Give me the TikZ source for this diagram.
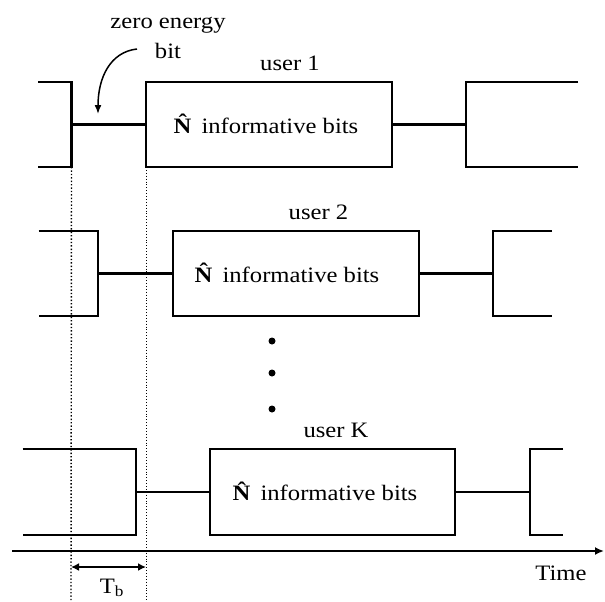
\documentclass[tikz,border=0pt]{standalone}
\usepackage{fontspec}
\setmainfont{Liberation Serif}[FakeStretch=1.12]
\usetikzlibrary{arrows.meta}
\begin{document}
\begin{tikzpicture}[x=1pt,y=-1pt,
  sig/.style={line width=2.1pt, line join=miter},
  blk/.style={draw, line width=2.1pt, minimum width=246pt, minimum height=85pt, inner sep=0pt},
  lbl/.style={font=\fontsize{22}{24}\selectfont, inner sep=0pt, anchor=base},
  guidea/.style={dotted, line width=1.4pt},
  guideb/.style={dotted, line width=0.9pt},
  axis/.style={line width=2.1pt, -{Latex[length=9pt,width=8pt]}},
  dimarrow/.style={line width=1.8pt, {Latex[length=8pt,width=8pt]}-{Latex[length=8pt,width=8pt]}},
  pointer/.style={line width=1.5pt, -{Latex[length=9pt,width=7pt]}},
  dotmark/.style={circle, fill, inner sep=0pt, minimum size=7pt}
]
\useasboundingbox (0,0) rectangle (605,602);

% ---------- row 1 ----------
\node[blk] (b1) at (269,124.5) {};
\coordinate (l1a) at (38,82);
\coordinate (l1b) at (71.5,82);
\coordinate (l1c) at (71.5,167);
\coordinate (l1d) at (38,167);
\coordinate (l1m) at (71.5,124.5);
\coordinate (r1a) at (578,82);
\coordinate (r1b) at (466,82);
\coordinate (r1c) at (466,167);
\coordinate (r1d) at (578,167);
\coordinate (r1m) at (466,124.5);
\draw[sig] (l1a) -- (l1b) -- (l1c) -- (l1d);
\draw[sig] (l1m) -- (b1.west);
\draw[sig] (b1.east) -- (r1m);
\draw[sig] (r1a) -- (r1b) -- (r1c) -- (r1d);
\node[lbl] (t1) at (266,133) {\textbf{\^N} informative bits};
\node[lbl] (u1) at (290,70.7) {user 1};

% zero energy bit label and pointer
\node[lbl] (z1) at (168,29) {zero energy};
\node[lbl] (z2) at (168,59) {bit};
\coordinate (p0) at (137,49);
\coordinate (p1) at (98,114);
\draw[pointer] (p0) .. controls (110,52) and (98,78) .. (p1);

% ---------- row 2 ----------
\node[blk] (b2) at (295.6,273.5) {};
\coordinate (l2a) at (38.7,231);
\coordinate (l2b) at (97.7,231);
\coordinate (l2c) at (97.7,316);
\coordinate (l2d) at (38.7,316);
\coordinate (l2m) at (97.7,273.5);
\coordinate (r2a) at (552,231);
\coordinate (r2b) at (493,231);
\coordinate (r2c) at (493,316);
\coordinate (r2d) at (552,316);
\coordinate (r2m) at (493,273.5);
\draw[sig] (l2a) -- (l2b) -- (l2c) -- (l2d);
\draw[sig] (l2m) -- (b2.west);
\draw[sig] (b2.east) -- (r2m);
\draw[sig] (r2a) -- (r2b) -- (r2c) -- (r2d);
\node[lbl] (t2) at (287,282) {\textbf{\^N} informative bits};
\node[lbl] (u2) at (318.5,219.7) {user 2};

% dots
\node[dotmark] (d1) at (272,341) {};
\node[dotmark] (d2) at (272,373) {};
\node[dotmark] (d3) at (272,409) {};

% ---------- row K ----------
\node[blk, minimum width=245pt, minimum height=86pt] (bk) at (332.5,492) {};
\coordinate (lka) at (22.7,449);
\coordinate (lkb) at (135.7,449);
\coordinate (lkc) at (135.7,535);
\coordinate (lkd) at (22.7,535);
\coordinate (lkm) at (135.7,492);
\coordinate (rka) at (563,449);
\coordinate (rkb) at (530,449);
\coordinate (rkc) at (530,535);
\coordinate (rkd) at (563,535);
\coordinate (rkm) at (530,492);
\draw[sig] (lka) -- (lkb) -- (lkc) -- (lkd);
\draw[sig] (lkm) -- (bk.west);
\draw[sig] (bk.east) -- (rkm);
\draw[sig] (rka) -- (rkb) -- (rkc) -- (rkd);
\node[lbl] (tk) at (325,500.5) {\textbf{\^N} informative bits};
\node[lbl] (uk) at (336,437.7) {user K};

% ---------- guides ----------
\coordinate (ga) at (71,602);
\coordinate (gb0) at (146,167);
\coordinate (gb) at (146,602);
\draw[guidea] (l1c) -- (ga);
\draw[guideb] (gb0) -- (gb);

% ---------- time axis ----------
\coordinate (ax0) at (12,551);
\coordinate (ax1) at (604,551);
\draw[axis] (ax0) -- (ax1);
\node[lbl] (time) at (561,580) {Time};

% ---------- Tb ----------
\coordinate (tb0) at (71,567);
\coordinate (tb1) at (146,567);
\draw[dimarrow] (tb0) -- (tb1);
\node[lbl] (tb) at (112,593) {T\textsubscript{b}};
\end{tikzpicture}
\end{document}
